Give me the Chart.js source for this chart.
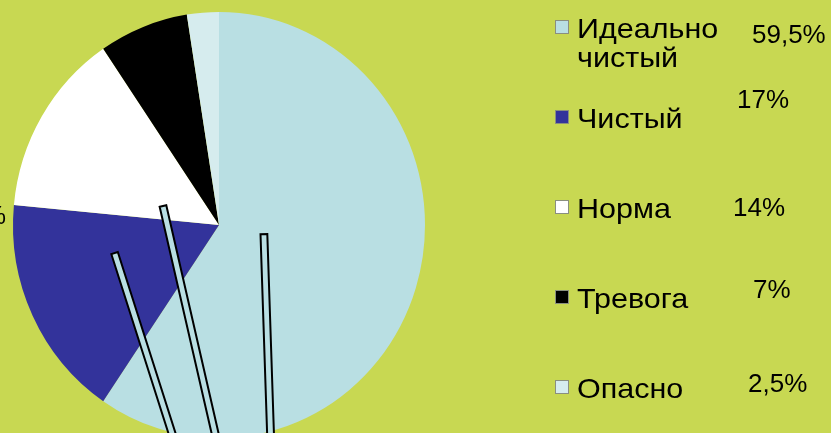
<!DOCTYPE html>
<html>
<head>
<meta charset="utf-8">
<script src="https://cdn.jsdelivr.net/npm/chart.js@4.4.1/dist/chart.umd.min.js"></script>
<style>
  html, body { margin: 0; padding: 0; background: #c8d852; }
  #wrap { width: 831px; height: 433px; position: relative; }
</style>
</head>
<body>
<div id="wrap"><canvas id="pie"></canvas></div>
<script>
// данные диаграммы
const categories = [['Идеально', 'чистый'], 'Чистый', 'Норма', 'Тревога', 'Опасно'];
const shares = [59.5, 17, 14, 7, 2.5];
const shareLabels = ['59,5%', '17%', '14%', '7%', '2,5%'];
const sliceColors = ['#b9dfe3', '#33339b', '#ffffff', '#000000', '#d6ecee'];

// позиции легенды и подписей (px)
const legendRows = [38, 128, 218, 308, 398];
const valuePos = [[752, 43], [737, 108], [733, 216], [753, 298], [748, 392]];

// круг в оригинале немного вытянут по вертикали
const stretchY = 1.034;

// тонкие "выноски" — в долях радиуса от центра круга
const leaderBars = [
  [[-0.507, 0.136], [-0.210, 1.068]],
  [[-0.272, -0.092], [-0.006, 1.068]],
  [[0.218, 0.044], [0.252, 1.068]]
];

function stretchedText(ctx, t, x, y, sx) {
  ctx.save();
  ctx.translate(x, y);
  ctx.scale(sx, 1);
  ctx.fillText(t, 0, 0);
  ctx.restore();
}

const extrasPlugin = {
  id: 'extras',
  beforeDatasetsDraw(chart) {
    const arc = chart.getDatasetMeta(0).data[0];
    const ctx = chart.ctx;
    ctx.save();
    ctx.translate(0, arc.y);
    ctx.scale(1, stretchY);
    ctx.translate(0, -arc.y);
  },
  afterDatasetsDraw(chart) {
    chart.ctx.restore();
  },
  afterDraw(chart) {
    const ctx = chart.ctx;
    const arc = chart.getDatasetMeta(0).data[0];
    const cx = arc.x, cy = arc.y, r = arc.outerRadius;

    // выноски
    leaderBars.forEach(([a, b]) => {
      const x1 = cx + a[0] * r, y1 = cy + a[1] * r;
      const x2 = cx + b[0] * r, y2 = cy + b[1] * r;
      const len = Math.hypot(x2 - x1, y2 - y1);
      const nx = -(y2 - y1) / len * 3.4, ny = (x2 - x1) / len * 3.4;
      ctx.save();
      ctx.beginPath();
      ctx.moveTo(x1 + nx, y1 + ny);
      ctx.lineTo(x2 + nx, y2 + ny);
      ctx.lineTo(x2 - nx, y2 - ny);
      ctx.lineTo(x1 - nx, y1 - ny);
      ctx.closePath();
      ctx.fillStyle = sliceColors[0];
      ctx.fill();
      ctx.lineWidth = 2;
      ctx.strokeStyle = '#000';
      ctx.stroke();
      ctx.restore();
    });

    // обрезанная подпись слева
    ctx.save();
    ctx.fillStyle = '#000';
    ctx.font = '25px "Liberation Sans", Arial, sans-serif';
    ctx.textAlign = 'right';
    ctx.fillText('17%', 6, 224);
    ctx.restore();

    // легенда
    ctx.save();
    ctx.font = '28px "Liberation Sans", Arial, sans-serif';
    ctx.textBaseline = 'alphabetic';
    categories.forEach((cat, i) => {
      const y = legendRows[i];
      ctx.fillStyle = sliceColors[i];
      ctx.fillRect(555.5, y - 17.5, 13, 13);
      ctx.strokeStyle = '#8a8f80';
      ctx.lineWidth = 1;
      ctx.strokeRect(555.5, y - 17.5, 13, 13);
      ctx.fillStyle = '#000';
      const lines = Array.isArray(cat) ? cat : [cat];
      lines.forEach((t, k) => stretchedText(ctx, t, 577, y + k * 29, 1.09));
    });
    ctx.font = '25px "Liberation Sans", Arial, sans-serif';
    shareLabels.forEach((t, i) => {
      stretchedText(ctx, t, valuePos[i][0], valuePos[i][1], 1.04);
    });
    ctx.restore();
  }
};

new Chart(document.getElementById('pie'), {
  type: 'pie',
  data: {
    labels: categories.map(c => Array.isArray(c) ? c.join(' ') : c),
    datasets: [{
      data: shares,
      backgroundColor: sliceColors,
      borderWidth: 0
    }]
  },
  options: {
    responsive: true,
    maintainAspectRatio: false,
    animation: false,
    layout: { padding: { left: 13, right: 406, top: 19, bottom: 2 } },
    plugins: {
      legend: { display: false },
      tooltip: { enabled: false }
    }
  },
  plugins: [extrasPlugin]
});
</script>
</body>
</html>
